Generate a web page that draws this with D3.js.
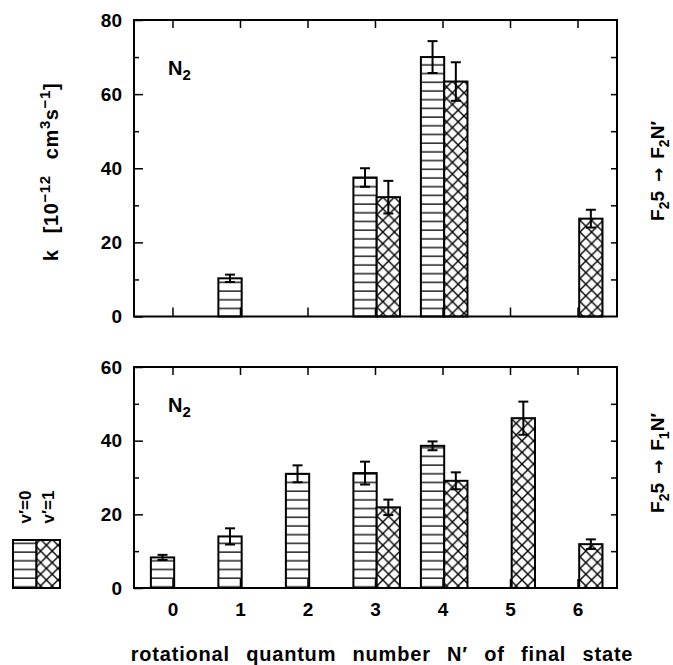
<!DOCTYPE html>
<html>
<head>
<meta charset="utf-8">
<script src="https://cdn.jsdelivr.net/npm/d3@7"></script>
<style>
  body { margin: 0; background: #fff; }
  text { font-family: "Liberation Sans", Arial, sans-serif; font-weight: bold; fill: #000; }
</style>
</head>
<body>
<div id="chart"></div>
<script>
// rotational quantum number N' of the final state
var levels = [0, 1, 2, 3, 4, 5, 6];

// upper panel: F2 5 -> F2 N'
var upperV0 = [null, 10.3, null, 37.5, 70.0, null, null];
var upperV0Err = [null, 1.0, null, 2.5, 4.3, null, null];
var upperV1 = [null, null, null, 32.2, 63.4, null, 26.4];
var upperV1Err = [null, null, null, 4.4, 5.2, null, 2.4];

// lower panel: F2 5 -> F1 N'
var lowerV0 = [8.3, 14.0, 31.0, 31.2, 38.6, null, null];
var lowerV0Err = [0.7, 2.2, 2.3, 3.1, 1.2, null, null];
var lowerV1 = [null, null, null, 21.9, 29.1, 46.1, 11.9];
var lowerV1Err = [null, null, null, 2.1, 2.3, 4.5, 1.3];

var upperTicks = [0, 20, 40, 60, 80];
var lowerTicks = [0, 20, 40, 60];

var W = 673, H = 665;
var svg = d3.select("#chart").append("svg")
    .attr("width", W)
    .attr("height", H);

var defs = svg.append("defs");

// horizontal line hatch (v'=0)
var hp = defs.append("pattern")
    .attr("id", "hlines")
    .attr("patternUnits", "userSpaceOnUse")
    .attr("width", 10)
    .attr("height", 8.7);
hp.append("rect").attr("width", 10).attr("height", 8.7).attr("fill", "#fff");
hp.append("line")
    .attr("x1", 0).attr("x2", 10)
    .attr("y1", 4).attr("y2", 4)
    .attr("stroke", "#000").attr("stroke-width", 1.3);

// cross hatch (v'=1)
var cs = 11.6;
var cp = defs.append("pattern")
    .attr("id", "cross")
    .attr("patternUnits", "userSpaceOnUse")
    .attr("width", cs)
    .attr("height", cs);
cp.append("rect").attr("width", cs).attr("height", cs).attr("fill", "#fff");
cp.append("path")
    .attr("d", "M-1,-1L" + (cs + 1) + "," + (cs + 1) + "M" + (cs + 1) + ",-1L-1," + (cs + 1))
    .attr("stroke", "#000").attr("stroke-width", 1.4).attr("fill", "none");

var x = d3.scaleLinear().domain([-0.57, 6.585]).range([134, 617]);

var v0Left = -0.32, v1Left = 0.025, barW = 0.345;

function drawPanel(opts){
    var y = d3.scaleLinear().domain([0, opts.max]).range([opts.bottom, opts.top]);
    var g = svg.append("g");

    // bars
    function bars(vals, errs, offset, fill){
        var idx = levels.filter(function(d, i){ return vals[i] != null; });
        g.selectAll(null).data(idx).enter()
            .append("rect")
            .attr("x", function(d){ return x(d + offset); })
            .attr("width", function(d){ return x(d + offset + barW) - x(d + offset); })
            .attr("y", function(d){ return y(vals[d]); })
            .attr("height", function(d){ return y(0) - y(vals[d]); })
            .attr("fill", fill)
            .attr("stroke", "#000")
            .attr("stroke-width", 2);

        var eb = g.selectAll(null).data(idx).enter().append("g")
            .attr("stroke", "#000").attr("stroke-width", 2);
        eb.append("line")
            .attr("x1", function(d){ return x(d + offset + barW / 2); })
            .attr("x2", function(d){ return x(d + offset + barW / 2); })
            .attr("y1", function(d){ return y(vals[d] + errs[d]); })
            .attr("y2", function(d){ return y(vals[d] - errs[d]); });
        [1, -1].forEach(function(s){
            eb.append("line")
                .attr("x1", function(d){ return x(d + offset + barW / 2) - 5; })
                .attr("x2", function(d){ return x(d + offset + barW / 2) + 5; })
                .attr("y1", function(d){ return y(vals[d] + s * errs[d]); })
                .attr("y2", function(d){ return y(vals[d] + s * errs[d]); });
        });
    }
    bars(opts.v0, opts.v0Err, v0Left, "url(#hlines)");
    bars(opts.v1, opts.v1Err, v1Left, "url(#cross)");

    // frame
    g.append("rect")
        .attr("x", x.range()[0]).attr("y", opts.top)
        .attr("width", x.range()[1] - x.range()[0])
        .attr("height", opts.bottom - opts.top)
        .attr("fill", "none").attr("stroke", "#000").attr("stroke-width", 2);

    // left axis: major ticks with labels, minor ticks
    var left = g.append("g").attr("class", "axis")
        .attr("transform", "translate(" + x.range()[0] + ",0)")
        .call(d3.axisLeft(y).tickValues(opts.ticks).tickSize(-9).tickPadding(12));
    left.select(".domain").remove();
    left.selectAll("text").style("font-size", "19px").attr("font-family", null);
    left.selectAll("line").attr("stroke-width", 1.5);

    var minor = d3.range(10, opts.max, 20);
    var lm = g.append("g")
        .attr("transform", "translate(" + x.range()[0] + ",0)")
        .call(d3.axisLeft(y).tickValues(minor).tickSize(-5).tickFormat(""));
    lm.select(".domain").remove();
    lm.selectAll("line").attr("stroke-width", 1.5);

    // right axis: ticks every 10
    var rm = g.append("g")
        .attr("transform", "translate(" + x.range()[1] + ",0)")
        .call(d3.axisRight(y).tickValues(d3.range(10, opts.max, 10)).tickSize(-6).tickFormat(""));
    rm.select(".domain").remove();
    rm.selectAll("line").attr("stroke-width", 1.5);

    // top and bottom category ticks
    var tt = g.append("g")
        .attr("transform", "translate(0," + opts.top + ")")
        .call(d3.axisTop(x).tickValues(levels).tickSize(-8).tickFormat(""));
    tt.select(".domain").remove();
    tt.selectAll("line").attr("stroke-width", 1.5);

    var bt = g.append("g")
        .attr("transform", "translate(0," + opts.bottom + ")")
        .call(d3.axisBottom(x).tickValues(levels).tickSize(-9).tickPadding(15)
            .tickFormat(opts.labels ? d3.format("d") : ""));
    bt.select(".domain").remove();
    bt.selectAll("line").attr("stroke-width", 1.5);
    bt.selectAll("text").style("font-size", "19px").attr("font-family", null);

    // N2 label
    var n2 = g.append("text")
        .attr("x", x.range()[0] + 34)
        .attr("y", opts.top + opts.n2dy)
        .style("font-size", "20px");
    n2.append("tspan").text("N");
    n2.append("tspan").attr("dy", 5).style("font-size", "15px").text("2");

    // transition label on the right
    var rl = g.append("text")
        .attr("transform", "translate(664," + opts.labelY + ") rotate(-90)")
        .attr("text-anchor", "middle")
        .style("font-size", "19px");
    rl.append("tspan").text("F");
    rl.append("tspan").attr("dy", 5).style("font-size", "14px").text("2");
    rl.append("tspan").attr("dy", -5).text("5");
    rl.append("tspan").attr("dx", 9).style("font-family", "'DejaVu Sans'").style("font-size", "17px").text("\u2192");
    rl.append("tspan").attr("dx", 9).text("F");
    rl.append("tspan").attr("dy", 5).style("font-size", "14px").text(opts.final);
    rl.append("tspan").attr("dy", -5).text("N\u2032");
}

drawPanel({top: 20, bottom: 316.5, max: 80, ticks: upperTicks,
    v0: upperV0, v0Err: upperV0Err, v1: upperV1, v1Err: upperV1Err,
    labels: false, n2dy: 55, labelY: 171, final: "2"});

drawPanel({top: 367, bottom: 588, max: 60, ticks: lowerTicks,
    v0: lowerV0, v0Err: lowerV0Err, v1: lowerV1, v1Err: lowerV1Err,
    labels: true, n2dy: 45, labelY: 463, final: "1"});

// y axis title
var yt = svg.append("text")
    .attr("transform", "translate(58,172) rotate(-90)")
    .attr("text-anchor", "middle")
    .style("font-size", "20px")
    .style("letter-spacing", "0.6px")
    .style("word-spacing", "10px");
yt.append("tspan").text("k [10");
yt.append("tspan").attr("dy", -8).style("font-size", "15px").text("\u221212");
yt.append("tspan").attr("dy", 8).text(" cm");
yt.append("tspan").attr("dy", -8).style("font-size", "15px").text("3");
yt.append("tspan").attr("dy", 8).text("s");
yt.append("tspan").attr("dy", -8).style("font-size", "15px").text("\u22121");
yt.append("tspan").attr("dy", 8).text("]");

// x axis title
svg.append("text")
    .attr("x", 382)
    .attr("y", 661)
    .attr("text-anchor", "middle")
    .style("font-size", "20px")
    .style("letter-spacing", "0.8px")
    .style("word-spacing", "10px")
    .text("rotational quantum number N\u2032 of final state");

// legend
var legendItems = [{label: "v\u2032=0", fill: "url(#hlines)"}, {label: "v\u2032=1", fill: "url(#cross)"}];
var lx = d3.scaleBand().domain(legendItems.map(function(d){ return d.label; })).range([13, 60]);
var lg = svg.append("g");
lg.selectAll("rect").data(legendItems).enter().append("rect")
    .attr("x", function(d){ return lx(d.label); })
    .attr("y", 540)
    .attr("width", lx.bandwidth())
    .attr("height", 48)
    .attr("fill", function(d){ return d.fill; })
    .attr("stroke", "#000").attr("stroke-width", 2);
lg.selectAll("text").data(legendItems).enter().append("text")
    .attr("transform", function(d){ return "translate(" + (lx(d.label) + lx.bandwidth() / 2 + 6) + ",507) rotate(-90)"; })
    .attr("text-anchor", "middle")
    .style("font-size", "17px")
    .text(function(d){ return d.label; });
</script>
</body>
</html>
